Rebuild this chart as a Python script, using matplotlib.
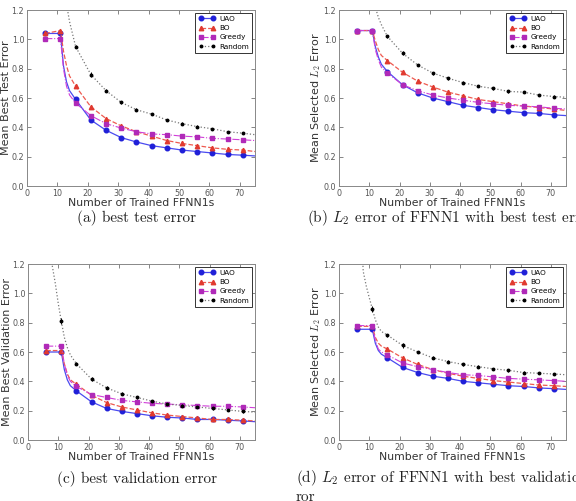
import matplotlib
matplotlib.use("Agg")
import matplotlib.pyplot as plt
import numpy as np

plt.rcParams['mathtext.fontset'] = 'cm'

# ---------------- data ----------------
X = [6, 11, 12, 13, 14, 16, 21, 26, 31, 36, 41, 46, 51, 56, 61, 66, 71, 75]
XR = [6, 8, 9, 10, 11, 12, 13, 14, 16, 21, 26, 31, 36, 41, 46, 51, 56, 61, 66, 71, 75]
MARK = [0, 1] + list(range(5, 17))
MARK_R = [4] + list(range(8, 20))

# (a) best test error
a_uao = [1.04, 1.04, 0.82, 0.71, 0.65, 0.59, 0.45, 0.38, 0.33, 0.30, 0.275, 0.26, 0.245, 0.235, 0.225, 0.215, 0.21, 0.205]
a_bo = [1.04, 1.06, 0.92, 0.82, 0.75, 0.68, 0.54, 0.46, 0.41, 0.37, 0.34, 0.31, 0.29, 0.275, 0.26, 0.25, 0.245, 0.235]
a_greedy = [1.005, 1.005, 0.80, 0.68, 0.62, 0.565, 0.48, 0.425, 0.395, 0.37, 0.355, 0.35, 0.34, 0.335, 0.325, 0.32, 0.315, 0.31]
a_random = [3.0, 2.4, 2.1, 1.8, 1.55, 1.38, 1.24, 1.12, 0.95, 0.76, 0.65, 0.57, 0.52, 0.49, 0.45, 0.425, 0.405, 0.39, 0.37, 0.36, 0.35]

# (b) L2 error with best test error
b_uao = [1.06, 1.06, 0.95, 0.88, 0.83, 0.78, 0.69, 0.635, 0.60, 0.575, 0.55, 0.535, 0.52, 0.51, 0.50, 0.495, 0.485, 0.48]
b_bo = [1.06, 1.06, 0.99, 0.93, 0.89, 0.855, 0.775, 0.715, 0.675, 0.64, 0.615, 0.59, 0.575, 0.56, 0.545, 0.535, 0.525, 0.515]
b_greedy = [1.06, 1.06, 0.93, 0.86, 0.81, 0.77, 0.69, 0.65, 0.62, 0.60, 0.585, 0.57, 0.56, 0.55, 0.545, 0.54, 0.53, 0.525]
b_random = [3.0, 2.2, 1.8, 1.5, 1.33, 1.22, 1.15, 1.10, 1.02, 0.905, 0.825, 0.77, 0.735, 0.705, 0.68, 0.665, 0.645, 0.64, 0.62, 0.61, 0.605]

# (c) best validation error
c_uao = [0.60, 0.60, 0.48, 0.41, 0.37, 0.335, 0.26, 0.215, 0.195, 0.18, 0.165, 0.155, 0.15, 0.14, 0.14, 0.135, 0.13, 0.125]
c_bo = [0.61, 0.61, 0.52, 0.45, 0.41, 0.38, 0.305, 0.255, 0.225, 0.205, 0.185, 0.17, 0.16, 0.15, 0.14, 0.14, 0.135, 0.13]
c_greedy = [0.64, 0.64, 0.52, 0.44, 0.40, 0.365, 0.31, 0.29, 0.27, 0.26, 0.25, 0.245, 0.24, 0.235, 0.23, 0.23, 0.225, 0.22]
c_random = [2.0, 1.19, 1.07, 0.93, 0.81, 0.70, 0.63, 0.58, 0.52, 0.415, 0.355, 0.315, 0.29, 0.265, 0.245, 0.235, 0.225, 0.215, 0.205, 0.195, 0.19]

# (d) L2 error with best validation error
d_uao = [0.755, 0.755, 0.66, 0.61, 0.585, 0.56, 0.495, 0.46, 0.435, 0.42, 0.40, 0.39, 0.38, 0.37, 0.365, 0.355, 0.35, 0.345]
d_bo = [0.775, 0.775, 0.70, 0.66, 0.64, 0.62, 0.56, 0.515, 0.48, 0.455, 0.435, 0.42, 0.405, 0.395, 0.385, 0.375, 0.37, 0.365]
d_greedy = [0.78, 0.78, 0.68, 0.62, 0.60, 0.58, 0.525, 0.50, 0.48, 0.46, 0.445, 0.44, 0.43, 0.42, 0.415, 0.41, 0.405, 0.40]
d_random = [2.0, 1.15, 1.05, 0.97, 0.895, 0.82, 0.77, 0.74, 0.715, 0.645, 0.60, 0.56, 0.535, 0.515, 0.50, 0.485, 0.475, 0.46, 0.455, 0.45, 0.445]

random_err = [0.02, 0.01, 0.015, 0.01, 0.01, 0.01, 0.008, 0.008, 0.008, 0.008, 0.008, 0.008, 0.008]

ylabels = ["Mean Best Test Error", "Mean Selected $L_2$ Error",
           "Mean Best Validation Error", "Mean Selected $L_2$ Error"]
captions = ["(a) best test error",
            "(b) $L_2$ error of FFNN1 with best test error",
            "(c) best validation error",
            "(d) $L_2$ error of FFNN1 with best validation er-"]
caption_d2 = "ror"
xticks = [0, 10, 20, 30, 40, 50, 60, 70]
yticks = [0.0, 0.2, 0.4, 0.6, 0.8, 1.0, 1.2]
labels = ["UAO", "BO", "Greedy", "Random"]

panels = [(a_uao, a_bo, a_greedy, a_random),
          (b_uao, b_bo, b_greedy, b_random),
          (c_uao, c_bo, c_greedy, c_random),
          (d_uao, d_bo, d_greedy, d_random)]

# ---------------- figure ----------------
W, H = 576, 501
fig = plt.figure(figsize=(W / 100, H / 100), dpi=100)

boxes = [(27, 10, 228, 176), (339, 10, 227, 176),
         (28, 264, 227, 176), (339, 264, 227, 176)]
cap_pos = [(137, 218, 'center'), (307, 218, 'left'),
           (137, 479, 'center'), (296, 478, 'left')]

c_uao_col = '#2020d8'
c_bo_col = '#e03a30'
c_gr_col = '#b02ab8'

for i, (uao, bo, gr, rnd) in enumerate(panels):
    l, t, w, h = boxes[i]
    ax = fig.add_axes([l / W, 1 - (t + h) / H, w / W, h / H])
    ax.plot(X, uao, '-', color='#4a4af0', lw=0.9, marker='o', ms=3.3,
            mfc=c_uao_col, mec=c_uao_col, markevery=MARK, label=labels[0], zorder=3)
    ax.plot(X, bo, '--', color='#ee5a50', lw=0.9, marker='^', ms=3.2,
            mfc=c_bo_col, mec=c_bo_col, markevery=MARK, label=labels[1], zorder=3)
    ax.plot(X, gr, '-.', color='#d040d8', lw=0.8, marker='s', ms=3.2,
            mfc=c_gr_col, mec=c_gr_col, markevery=MARK, label=labels[2], zorder=3)
    ax.plot(XR, rnd, ':', color='#777777', lw=0.9, marker='o', ms=1.8,
            mfc='k', mec='k', markevery=MARK_R, label=labels[3], zorder=3)
    xr_m = [XR[j] for j in MARK_R]
    yr_m = [rnd[j] for j in MARK_R]
    ax.errorbar(xr_m, yr_m, yerr=random_err, fmt='none', ecolor='k',
                elinewidth=0.7, capsize=0, zorder=4)

    ax.set_xlim(0, 75)
    ax.set_ylim(0, 1.2)
    ax.set_xticks(xticks)
    ax.set_yticks(yticks)
    ax.set_yticklabels([f"{v:.1f}" for v in yticks])
    ax.tick_params(direction='in', top=True, right=True, length=3, width=0.5,
                   labelsize=5.8, colors='#555555', pad=2)
    for s in ax.spines.values():
        s.set_color('#888888')
        s.set_linewidth(0.7)
    ax.set_xlabel("Number of Trained FFNN1s", fontsize=7.8, color='#333333', labelpad=0)
    ax.set_ylabel(ylabels[i], fontsize=8.0, color='#333333', labelpad=0.5)
    leg = ax.legend(loc='upper right', fontsize=5.2, handlelength=2.3, numpoints=2,
                    borderpad=0.45, labelspacing=0.45, fancybox=False,
                    framealpha=1, borderaxespad=0.35, handletextpad=0.6)
    leg.get_frame().set_edgecolor('#333333')
    leg.get_frame().set_linewidth(0.7)

    cx, cy, ha = cap_pos[i]
    fig.text(cx / W, 1 - cy / H, captions[i], fontsize=11, family='cmr10',
             ha=ha, va='center', color='#222222')

fig.text(296 / W, 1 - 497 / H, caption_d2, fontsize=11, family='cmr10',
         ha='left', va='center', color='#222222')

fig.savefig("out.png", dpi=100)
